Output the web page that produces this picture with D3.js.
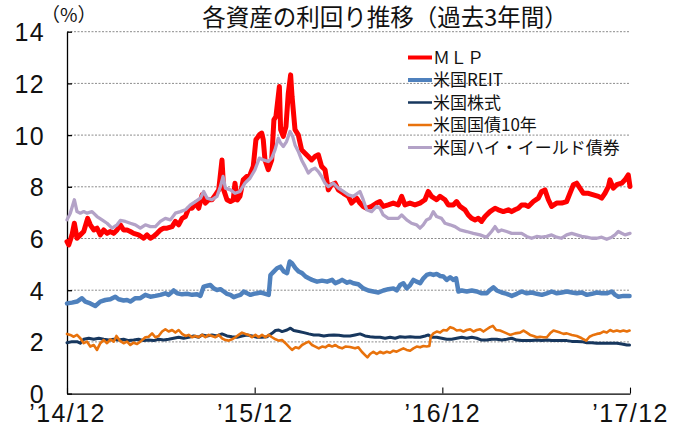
<!DOCTYPE html>
<html><head><meta charset="utf-8">
<script src="https://cdn.jsdelivr.net/npm/d3@7/dist/d3.min.js"></script>
<style>body{margin:0;background:#fff}svg{display:block}</style>
</head><body><svg id="c" width="683" height="428"></svg>
<script>
const titleText = "各資産の利回り推移（過去3年間）";
const unitText = "（%）";
const seriesNames = ["ＭＬＰ", "米国REIT", "米国株式", "米国国債10年", "米国ハイ・イールド債券"];
const seriesColors = ["#ff0000", "#4f81bd", "#17375e", "#e8720c", "#b3a2c7"];
const yTicks = [0, 2, 4, 6, 8, 10, 12, 14];
const xTickMonths = [0, 12, 24, 36];
const xTickLabels = ["’14/12", "’15/12", "’16/12", "’17/12"];

// [months since Dec 2014, yield %]
const mlp = [[0,5.88],[0.11,5.75],[0.32,6.14],[0.47,6.59],[0.64,6.01],[0.85,6.14],[1.07,6.27],[1.32,6.78],[1.49,6.53],[1.71,6.33],[1.92,6.40],[2.13,6.14],[2.35,6.33],[2.56,6.20],[2.77,6.27],[2.99,6.20],[3.20,6.33],[3.41,6.53],[3.62,6.33],[3.84,6.33],[4.05,6.27],[4.26,6.20],[4.58,6.14],[4.90,6.01],[5.12,6.14],[5.33,6.01],[5.54,6.08],[5.76,6.20],[5.97,6.33],[6.18,6.40],[6.40,6.40],[6.72,6.46],[6.93,6.66],[7.14,6.53],[7.36,6.78],[7.57,6.85],[7.78,7.17],[8.00,7.17],[8.21,7.37],[8.42,7.17],[8.64,7.69],[8.85,7.37],[9.06,7.50],[9.27,7.50],[9.49,7.69],[9.70,7.88],[9.91,9.04],[10.02,7.88],[10.23,7.50],[10.45,7.43],[10.63,7.49],[10.74,8.14],[10.89,7.49],[11.06,7.63],[11.27,8.27],[11.49,8.40],[11.70,8.46],[11.91,8.79],[12.08,9.82],[12.30,10.01],[12.45,10.08],[12.55,9.82],[12.66,9.04],[12.87,8.66],[13.09,9.04],[13.23,10.59],[13.36,10.72],[13.58,11.88],[13.66,10.21],[13.83,9.95],[14.00,10.33],[14.15,11.62],[14.30,12.33],[14.39,11.50],[14.58,10.21],[14.79,10.01],[15.00,9.43],[15.22,9.30],[15.43,9.17],[15.64,9.04],[15.86,9.17],[16.07,9.24],[16.28,8.79],[16.50,8.66],[16.71,7.88],[16.92,8.08],[17.14,8.14],[17.35,7.88],[17.67,7.75],[17.99,7.63],[18.20,7.37],[18.52,7.56],[18.73,7.37],[18.94,7.24],[19.16,7.17],[19.48,7.24],[19.80,7.37],[20.01,7.43],[20.22,7.24],[20.54,7.30],[20.86,7.37],[21.18,7.30],[21.40,7.63],[21.61,7.30],[21.93,7.37],[22.25,7.30],[22.57,7.37],[22.89,7.50],[23.10,7.82],[23.31,7.63],[23.63,7.50],[23.85,7.63],[24.17,7.50],[24.38,7.30],[24.70,7.30],[24.91,7.43],[25.13,7.24],[25.45,7.11],[25.66,6.91],[25.87,6.78],[26.09,6.72],[26.30,6.78],[26.51,6.66],[26.73,6.85],[27.05,7.04],[27.37,7.17],[27.58,7.11],[27.90,7.04],[28.22,7.11],[28.43,7.04],[28.64,7.11],[28.86,7.17],[29.07,7.30],[29.28,7.30],[29.50,7.24],[29.82,7.43],[30.14,7.56],[30.35,7.82],[30.56,7.88],[30.78,7.50],[30.99,7.24],[31.31,7.37],[31.63,7.37],[31.95,7.43],[32.16,7.75],[32.38,8.08],[32.59,8.14],[32.80,7.95],[33.02,7.75],[33.34,7.75],[33.66,7.69],[33.98,7.63],[34.19,7.56],[34.40,7.75],[34.62,8.01],[34.72,8.27],[34.93,7.95],[35.15,8.08],[35.47,8.14],[35.68,8.27],[35.89,8.46],[36.0,8.01]];

const reit = [[0,3.49],[0.32,3.52],[0.64,3.56],[0.96,3.69],[1.17,3.56],[1.49,3.49],[1.81,3.39],[2.13,3.56],[2.45,3.62],[2.77,3.65],[3.09,3.75],[3.30,3.65],[3.62,3.60],[3.84,3.62],[4.05,3.56],[4.37,3.69],[4.69,3.69],[5.01,3.82],[5.33,3.75],[5.65,3.78],[5.97,3.82],[6.29,3.88],[6.50,3.82],[6.82,3.99],[7.04,3.88],[7.36,3.84],[7.68,3.86],[8.00,3.82],[8.32,3.84],[8.53,3.78],[8.74,4.14],[8.96,4.17],[9.17,4.20],[9.38,4.07],[9.59,4.01],[9.81,4.04],[10.02,3.95],[10.23,3.86],[10.45,3.82],[10.66,3.73],[10.87,3.78],[11.09,3.82],[11.30,3.95],[11.51,3.88],[11.73,3.82],[11.94,3.86],[12.15,3.88],[12.37,3.91],[12.58,3.88],[12.90,3.82],[13.01,4.59],[13.22,4.72],[13.43,4.85],[13.65,4.91],[13.86,4.72],[14.07,4.66],[14.24,5.11],[14.39,5.04],[14.61,4.85],[14.82,4.72],[15.03,4.66],[15.25,4.53],[15.46,4.46],[15.67,4.40],[15.99,4.33],[16.31,4.37],[16.63,4.33],[16.95,4.40],[17.16,4.27],[17.38,4.33],[17.59,4.40],[17.91,4.29],[18.10,4.33],[18.31,4.27],[18.63,4.23],[18.95,4.07],[19.27,3.99],[19.59,3.95],[19.91,3.91],[20.23,3.99],[20.55,4.04],[20.87,4.07],[21.08,3.99],[21.30,4.20],[21.51,4.27],[21.72,4.07],[21.94,4.20],[22.15,4.40],[22.36,4.33],[22.58,4.27],[22.79,4.46],[23.00,4.59],[23.22,4.63],[23.43,4.59],[23.64,4.63],[23.86,4.55],[24.07,4.53],[24.28,4.40],[24.50,4.50],[24.71,4.40],[24.88,4.46],[25.03,3.95],[25.24,3.99],[25.56,3.95],[25.88,3.99],[26.20,3.95],[26.52,3.88],[26.84,3.88],[27.05,4.01],[27.27,4.11],[27.48,3.99],[27.80,3.91],[28.12,3.86],[28.44,3.78],[28.76,3.86],[29.08,3.95],[29.40,3.88],[29.72,3.91],[30.04,3.86],[30.36,3.82],[30.68,3.88],[31.00,3.95],[31.32,3.88],[31.64,3.91],[31.96,3.95],[32.28,3.91],[32.60,3.88],[32.92,3.91],[33.24,3.82],[33.56,3.86],[33.88,3.91],[34.20,3.88],[34.52,3.88],[34.84,3.95],[35.05,3.82],[35.26,3.75],[35.58,3.78],[35.97,3.78]];

const stock = [[0,1.97],[0.32,2.01],[0.64,2.01],[0.85,1.95],[1.07,2.10],[1.39,2.14],[1.71,2.10],[2.03,2.14],[2.35,2.10],[2.67,2.07],[2.99,2.10],[3.30,2.07],[3.62,2.10],[3.94,2.05],[4.26,2.07],[4.58,2.10],[4.90,2.05],[5.22,2.07],[5.54,2.05],[5.86,2.10],[6.18,2.07],[6.50,2.10],[6.82,2.14],[7.14,2.18],[7.46,2.14],[7.78,2.18],[8.10,2.23],[8.42,2.18],[8.64,2.27],[8.96,2.23],[9.27,2.27],[9.59,2.23],[9.91,2.31],[10.23,2.23],[10.55,2.20],[10.87,2.18],[11.19,2.23],[11.51,2.27],[11.83,2.23],[12.15,2.18],[12.47,2.18],[12.79,2.20],[13.11,2.33],[13.33,2.44],[13.54,2.46],[13.75,2.40],[14.07,2.46],[14.29,2.53],[14.50,2.44],[14.82,2.40],[15.14,2.36],[15.46,2.31],[15.78,2.27],[16.10,2.27],[16.42,2.23],[16.74,2.26],[17.06,2.27],[17.38,2.26],[17.70,2.23],[18.10,2.23],[18.42,2.27],[18.74,2.31],[19.06,2.23],[19.38,2.20],[19.70,2.18],[20.02,2.18],[20.34,2.14],[20.66,2.18],[20.98,2.14],[21.30,2.20],[21.62,2.18],[21.94,2.20],[22.26,2.18],[22.58,2.18],[22.90,2.23],[23.11,2.27],[23.32,2.18],[23.64,2.18],[23.96,2.14],[24.28,2.10],[24.60,2.10],[24.92,2.14],[25.24,2.18],[25.56,2.14],[25.88,2.18],[26.20,2.14],[26.52,2.07],[26.84,2.07],[27.16,2.10],[27.48,2.10],[27.80,2.07],[28.12,2.10],[28.44,2.14],[28.76,2.07],[29.08,2.05],[29.40,2.05],[29.72,2.05],[30.04,2.07],[30.36,2.05],[30.68,2.07],[31.00,2.05],[31.32,2.05],[31.64,2.05],[31.96,2.05],[32.28,2.02],[32.60,2.02],[32.92,2.01],[33.24,1.97],[33.56,1.97],[33.88,1.95],[34.20,1.95],[34.52,1.95],[34.84,1.95],[35.16,1.95],[35.48,1.92],[35.80,1.88],[35.97,1.88]];

const bond10 = [[0,2.31],[0.21,2.27],[0.43,2.20],[0.64,2.27],[0.85,2.14],[1.07,1.95],[1.28,2.01],[1.49,1.82],[1.71,1.88],[1.92,1.69],[2.13,1.95],[2.35,2.07],[2.56,1.95],[2.77,2.10],[2.99,2.01],[3.16,2.23],[3.37,2.05],[3.62,1.95],[3.84,2.01],[4.05,1.88],[4.26,1.97],[4.48,1.92],[4.69,2.01],[5.01,2.18],[5.22,2.20],[5.44,2.33],[5.65,2.18],[5.86,2.23],[6.08,2.40],[6.29,2.49],[6.50,2.40],[6.72,2.46],[6.93,2.36],[7.14,2.46],[7.36,2.31],[7.57,2.23],[7.78,2.27],[8.00,2.18],[8.21,2.23],[8.42,2.18],[8.64,2.27],[8.85,2.18],[9.06,2.27],[9.27,2.23],[9.49,2.18],[9.70,2.27],[9.91,2.14],[10.13,2.07],[10.34,2.05],[10.55,2.10],[10.77,2.18],[10.98,2.27],[11.19,2.36],[11.41,2.31],[11.62,2.27],[11.83,2.18],[12.05,2.27],[12.26,2.18],[12.47,2.27],[12.69,2.18],[12.90,2.27],[13.11,2.18],[13.33,2.10],[13.54,2.05],[13.75,2.07],[13.97,1.95],[14.18,1.82],[14.39,1.69],[14.61,1.79],[14.82,1.75],[15.03,1.88],[15.25,1.95],[15.46,2.01],[15.67,1.88],[15.88,1.82],[16.10,1.75],[16.31,1.82],[16.52,1.79],[16.74,1.88],[16.95,1.82],[17.16,1.88],[17.38,1.79],[17.59,1.75],[17.80,1.82],[18.10,1.80],[18.42,1.75],[18.63,1.79],[18.85,1.62],[19.06,1.49],[19.21,1.40],[19.38,1.53],[19.59,1.62],[19.81,1.53],[20.02,1.62],[20.23,1.56],[20.45,1.62],[20.66,1.58],[20.87,1.66],[21.08,1.62],[21.30,1.69],[21.51,1.75],[21.72,1.69],[21.94,1.66],[22.15,1.75],[22.36,1.82],[22.58,1.79],[22.79,1.84],[23.00,1.82],[23.17,1.84],[23.26,2.20],[23.43,2.33],[23.64,2.40],[23.86,2.36],[24.07,2.46],[24.28,2.44],[24.50,2.57],[24.71,2.53],[24.92,2.44],[25.14,2.46],[25.35,2.40],[25.56,2.46],[25.78,2.49],[25.99,2.40],[26.20,2.46],[26.42,2.49],[26.63,2.40],[26.84,2.49],[27.05,2.57],[27.23,2.62],[27.44,2.46],[27.69,2.44],[28.01,2.36],[28.33,2.27],[28.65,2.33],[28.97,2.36],[29.19,2.44],[29.40,2.36],[29.61,2.27],[29.83,2.23],[30.04,2.18],[30.25,2.20],[30.47,2.18],[30.68,2.18],[30.89,2.33],[31.11,2.44],[31.32,2.40],[31.53,2.36],[31.75,2.31],[31.96,2.33],[32.28,2.27],[32.60,2.23],[32.92,2.14],[33.20,2.05],[33.41,2.20],[33.66,2.27],[33.88,2.31],[34.09,2.33],[34.30,2.40],[34.52,2.36],[34.73,2.46],[34.94,2.40],[35.16,2.44],[35.37,2.40],[35.58,2.44],[35.80,2.40],[35.97,2.44]];

const highYield = [[0,6.72],[0.21,6.98],[0.47,7.50],[0.64,7.04],[0.85,6.98],[1.07,7.04],[1.28,6.98],[1.60,7.04],[1.92,6.85],[2.24,6.72],[2.56,6.59],[2.88,6.40],[3.20,6.53],[3.41,6.70],[3.73,6.66],[4.05,6.59],[4.37,6.53],[4.69,6.40],[5.01,6.53],[5.33,6.46],[5.65,6.46],[5.97,6.66],[6.29,6.78],[6.61,6.72],[6.93,6.98],[7.25,7.04],[7.57,7.11],[7.89,7.30],[8.21,7.43],[8.53,7.56],[8.74,7.82],[8.96,7.56],[9.27,7.50],[9.59,7.63],[9.81,8.01],[9.98,8.40],[10.13,7.95],[10.45,7.88],[10.74,7.75],[11.06,7.82],[11.38,8.14],[11.70,8.33],[12.02,8.66],[12.30,9.11],[12.55,9.04],[12.87,8.98],[13.09,9.11],[13.30,9.43],[13.51,9.88],[13.66,9.69],[13.83,9.56],[14.04,9.75],[14.26,10.14],[14.43,9.95],[14.58,9.62],[14.79,9.37],[15.00,9.04],[15.22,8.79],[15.43,8.53],[15.64,8.66],[15.86,8.72],[16.07,8.59],[16.28,8.40],[16.50,8.14],[16.71,8.01],[17.03,8.14],[17.35,7.95],[17.67,7.82],[17.99,7.69],[18.31,7.63],[18.73,7.82],[18.94,7.50],[19.16,7.11],[19.48,7.04],[19.80,7.24],[20.01,7.17],[20.22,6.91],[20.54,6.78],[20.86,6.78],[21.18,6.78],[21.40,6.91],[21.72,6.72],[22.03,6.59],[22.35,6.53],[22.57,6.40],[22.78,6.53],[22.99,6.72],[23.21,6.78],[23.42,7.04],[23.63,6.85],[23.95,6.78],[24.17,6.59],[24.49,6.53],[24.81,6.46],[25.13,6.33],[25.55,6.27],[25.98,6.20],[26.41,6.14],[26.83,6.05],[27.15,6.27],[27.37,6.46],[27.58,6.27],[27.79,6.33],[28.11,6.27],[28.43,6.20],[28.75,6.20],[29.07,6.20],[29.39,6.08],[29.71,6.01],[30.03,6.08],[30.35,6.05],[30.67,6.08],[30.99,6.14],[31.31,6.05],[31.63,6.01],[31.95,6.14],[32.27,6.20],[32.59,6.14],[32.91,6.08],[33.23,6.05],[33.55,6.01],[33.87,6.01],[34.19,6.05],[34.51,5.97],[34.83,6.05],[35.04,6.14],[35.25,6.27],[35.47,6.20],[35.68,6.14],[36.0,6.20]];

const seriesData = [mlp, reit, stock, bond10, highYield];
const lineWidths = [5, 4.5, 3, 2.6, 3.3];
const legendWidths = [4, 4, 2.5, 2.5, 3];

const FONT = "'Noto Sans CJK JP', 'Noto Sans', sans-serif";
const NUMFONT = "'Liberation Sans', Arial, sans-serif";
const svg = d3.select("#c");
const L = 67, R = 630, T = 31.7, B = 393.6;
const x = d3.scaleLinear().domain([0, 36]).range([L, R]);
const y = d3.scaleLinear().domain([0, 14]).range([B, T]);

// gridlines
svg.append("g").selectAll("line").data(yTicks.filter(d => d > 0)).join("line")
  .attr("x1", L).attr("x2", R).attr("y1", d => y(d)).attr("y2", d => y(d))
  .attr("stroke", "#8c8c8c").attr("stroke-width", 1).attr("stroke-dasharray", "2,1.5");

// y axis
const gy = svg.append("g").attr("transform", `translate(${L},0)`)
  .call(d3.axisLeft(y).tickValues(yTicks).tickSize(-5).tickSizeOuter(0).tickPadding(22).tickFormat(d3.format("d")));
gy.select(".domain").attr("stroke", "#000").attr("stroke-width", 1.3);
gy.selectAll(".tick line").attr("stroke", "#000").attr("stroke-width", 1.3);
gy.selectAll("text").attr("font-family", NUMFONT).attr("font-size", 25).attr("fill", "#111")
  .style("letter-spacing", "1.4px").attr("dy", "0.36em");

// x axis
const gx = svg.append("g").attr("transform", `translate(0,${B})`)
  .call(d3.axisBottom(x).tickValues(xTickMonths).tickSize(-6).tickSizeOuter(0).tickPadding(11)
    .tickFormat((d, i) => xTickLabels[i]));
gx.select(".domain").attr("stroke", "#000").attr("stroke-width", 1.3);
gx.selectAll(".tick line").attr("stroke", "#000").attr("stroke-width", 1.1);
gx.selectAll("text").attr("font-family", NUMFONT).attr("font-size", 25).attr("fill", "#111")
  .style("letter-spacing", "1.4px");

// lines
const line = d3.line().x(d => x(d[0])).y(d => y(d[1]));
svg.append("g").selectAll("path").data(seriesData).join("path")
  .attr("d", line).attr("fill", "none")
  .attr("stroke", (d, i) => seriesColors[i])
  .attr("stroke-width", (d, i) => lineWidths[i])
  .attr("stroke-linejoin", "round").attr("stroke-linecap", "round");

// title
svg.append("text").attr("x", 385).attr("y", 18).attr("dy", "0.36em")
  .attr("text-anchor", "middle").attr("font-family", FONT).attr("font-size", 23.5)
  .attr("fill", "#111").text(titleText);
svg.append("text").attr("x", 41).attr("y", 15).attr("dy", "0.36em")
  .attr("font-family", FONT).attr("font-size", 19).attr("fill", "#111").text(unitText);

// legend
const lg = svg.append("g").selectAll("g").data(seriesNames).join("g")
  .attr("transform", (d, i) => `translate(408,${57.5 + i * 22.5})`);
lg.append("line").attr("x1", 0).attr("x2", 24).attr("y1", 0).attr("y2", 0)
  .attr("stroke", (d, i) => seriesColors[i]).attr("stroke-width", (d, i) => legendWidths[i]);
lg.append("text").attr("x", 25).attr("y", 0).attr("dy", "0.36em")
  .attr("font-family", FONT).attr("font-size", 17).attr("fill", "#111").text(d => d);
</script></body></html>
